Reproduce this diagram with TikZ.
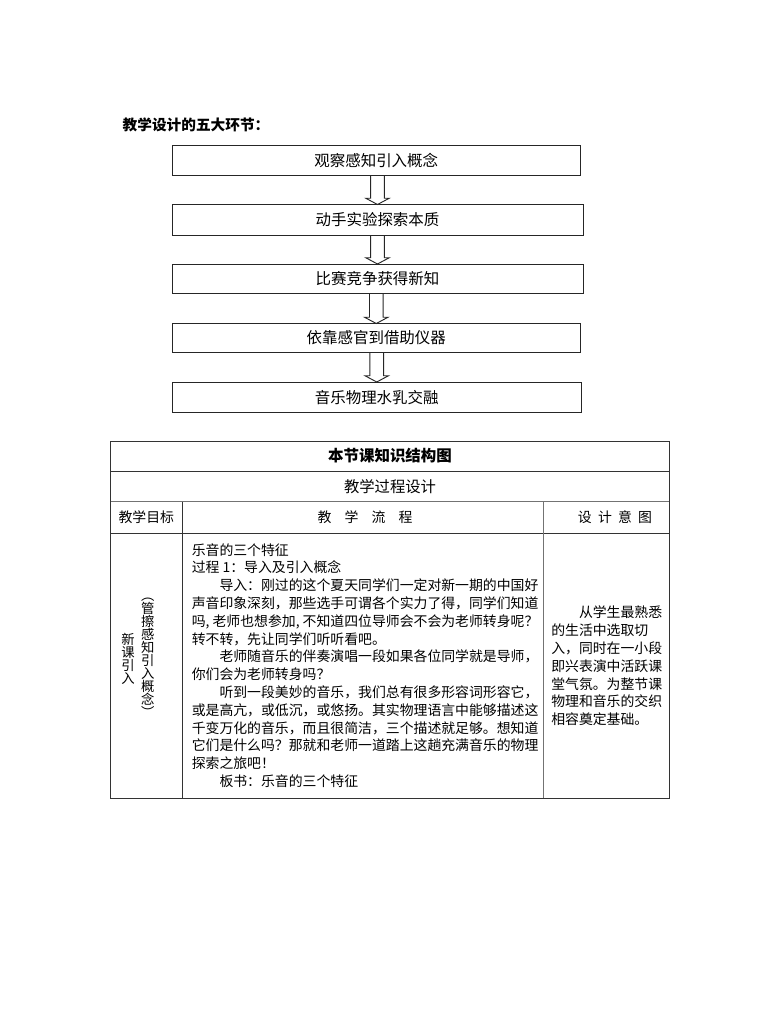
\documentclass[tikz,border=0pt]{standalone}
\usepackage{fontspec}
\setmainfont{Noto Sans CJK SC}
\usetikzlibrary{calc}

\newcommand\stepfont{\fontsize{11.6}{14}\selectfont}
\newcommand\cellfont{\fontsize{10.4}{13.35}\selectfont}
\newcommand\vertfont{\fontsize{10}{9.75}\selectfont\lineskiplimit=-20pt}

\tikzset{
  stagebox/.style={draw=black!85, line width=0.7pt, inner sep=0pt, outer sep=0pt, anchor=north west, font=\stepfont},
  downarrow/.style={draw=black!85, line width=0.7pt, line join=miter},
  tableline/.style={draw=black!80, line width=0.6pt},
  celltext/.style={font=\cellfont, inner sep=0pt}
}

\newcommand\stagearrow[2]{%
  \draw[downarrow] let \p1=(#1.south), \p2=(#2.north) in
    (\x2-5.1pt,\y1) -- (\x2-5.1pt,\y2+4.7pt) -- (\x2-8.8pt,\y2+4.7pt) -- (\x2,\y2)
    -- (\x2+8.8pt,\y2+4.7pt) -- (\x2+5.1pt,\y2+4.7pt) -- (\x2+5.1pt,\y1);}

\begin{document}
\begin{tikzpicture}[x=0.75pt,y=-0.75pt]
\useasboundingbox (0,0) rectangle (780,1021);

\node[anchor=west, font=\fontsize{11}{13}\selectfont\bfseries] (title) at (118,125) {教学设计的五大环节：};

% five stages
\node[stagebox, minimum width=306.4pt, minimum height=22.5pt] (s1) at (172,145.5) {观察感知引入概念};
\node[stagebox, minimum width=308.25pt, minimum height=22.9pt] (s2) at (172,204.5) {动手实验探索本质};
\node[stagebox, minimum width=308.25pt, minimum height=22.1pt] (s3) at (172,264) {比赛竞争获得新知};
\node[stagebox, minimum width=306.4pt, minimum height=21.75pt] (s4) at (172,323.5) {依靠感官到借助仪器};
\node[stagebox, minimum width=307.1pt, minimum height=22.9pt] (s5) at (172,382) {音乐物理水乳交融};
\stagearrow{s1}{s2}
\stagearrow{s2}{s3}
\stagearrow{s3}{s4}
\stagearrow{s4}{s5}

% table
\draw[tableline] (110.7,441) rectangle (669,798);
\draw[tableline] (110.7,471) -- (669,471);
\draw[tableline, draw=black!55] (110.7,501.5) -- (669,501.5);
\draw[tableline] (110.7,533.5) -- (669,533.5);
\draw[tableline] (182,501.5) -- (182,798);
\draw[tableline, draw=black!55] (543,501.5) -- (543,798);

\node[font=\fontsize{11.6}{14}\selectfont\bfseries] (maptitle) at (390,456) {本节课知识结构图};
\node[font=\fontsize{11.5}{14}\selectfont] (designtitle) at (390,486.5) {教学过程设计};
\node[celltext] (goalhead) at (146.3,517.5) {教学目标};
\node[celltext] (flowhead) at (365,517.5) {教\hspace{0.95em}学\hspace{0.95em}流\hspace{0.95em}程};
\node[celltext] (intenthead) at (615,517.5) {设\hspace{.45em}计\hspace{.45em}意\hspace{.45em}图};

\node[font=\vertfont, align=center, inner sep=0pt] (goalmain) at (128,659) {新\\课\\引\\入};
\node[font=\vertfont, align=center, inner sep=0pt] (goalsub) at (147.7,658) {︵\\管\\擦\\感\\知\\引\\入\\概\\念\\︶};

\node[celltext, align=left, anchor=north west] (flowtext) at (191.5,543) {%
乐音的三个特征\\
过程 1：导入及引入概念\\
\hspace{2em}导入：刚过的这个夏天同学们一定对新一期的中国好\\
声音印象深刻，那些选手可谓各个实力了得，同学们知道\\
\makebox[25em][s]{吗,\hfil 老师也想参加,\hfil 不知道四位导师会不会为老师转身呢？}\\
转不转，先让同学们听听看吧。\\
\hspace{2em}老师随音乐的伴奏演唱一段如果各位同学就是导师，\\
你们会为老师转身吗？\\
\hspace{2em}听到一段美妙的音乐，我们总有很多形容词形容它，\\
或是高亢，或低沉，或悠扬。其实物理语言中能够描述这\\
千变万化的音乐，而且很简洁，三个描述就足够。想知道\\
它们是什么吗？那就和老师一道踏上这趟充满音乐的物理\\
探索之旅吧！\\
\hspace{2em}板书：乐音的三个特征};

\node[celltext, align=left, anchor=west] (intenttext) at (551,666) {%
\hspace{2em}从学生最熟悉\\
的生活中选取切\\
入，同时在一小段\\
即兴表演中活跃课\\
堂气氛。为整节课\\
物理和音乐的交织\\
相容奠定基础。};
\end{tikzpicture}
\end{document}
